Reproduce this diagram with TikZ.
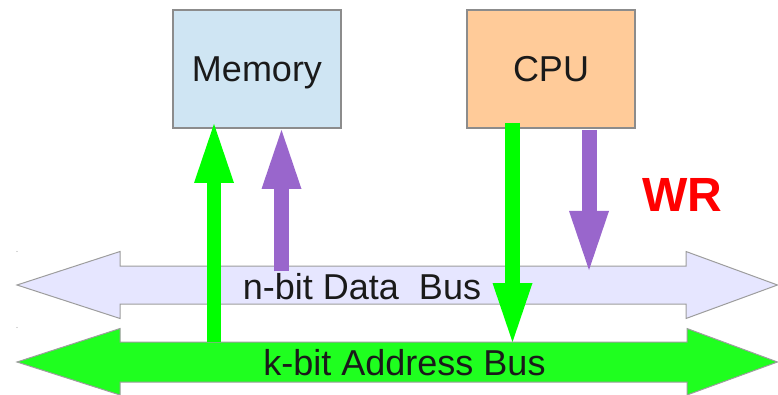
\documentclass[tikz,border=0pt]{standalone}
\usepackage{fontspec}
\setmainfont{Liberation Sans}
\usetikzlibrary{arrows.meta}
\definecolor{membg}{HTML}{CFE5F3}
\definecolor{cpubg}{HTML}{FFCB99}
\definecolor{databg}{HTML}{E6E6FF}
\definecolor{addrbg}{HTML}{1FFF1F}
\definecolor{sig}{HTML}{00FF00}
\definecolor{purp}{HTML}{9966CC}
\definecolor{edge}{HTML}{8C8C8C}
\definecolor{txt}{HTML}{1A1A1A}
\tikzset{
  unitbox/.style={draw=edge, line width=1.2pt, minimum width=168pt, minimum height=118pt,
    inner sep=0pt, text height=25.8pt, text depth=0pt, text=txt, font=\fontsize{36}{40}\selectfont},
  busshape/.style={draw=edge!85, line width=1pt},
  buslabel/.style={anchor=base, inner sep=0pt, text=txt, font=\fontsize{36}{40}\selectfont},
  fatarrow/.style={line width=#1, -{Triangle[length=59pt,width=40pt,line width=0pt]}},
  greensig/.style={fatarrow=14.5pt, draw=sig, fill=sig},
  purpsig/.style={fatarrow=15pt, draw=purp, fill=purp},
}
\begin{document}
\begin{tikzpicture}[x=1pt,y=-1pt]
\useasboundingbox (0,0) rectangle (778,395);
% buses
\draw[busshape, fill=databg] (17,285) -- (120,251.5) -- (120,266) -- (686,266) -- (686,251.5)
  -- (777.5,285) -- (686,318.5) -- (686,304) -- (120,304) -- (120,318.5) -- cycle;
\draw[busshape, fill=addrbg] (17,362) -- (120,328.5) -- (120,342) -- (687,342) -- (687,328.5)
  -- (777.5,362) -- (687,395) -- (687,382) -- (120,382) -- (120,395) -- cycle;
\fill[edge!70] (17,251.5) circle (0.6);
\fill[edge!70] (17,327.5) circle (0.6);
% units
\node[unitbox, fill=membg] (mem) at (257,69) {Memory};
\node[unitbox, fill=cpubg] (cpu) at (551,69) {CPU};
% connector end points
\coordinate (memGin) at (214,342);
\coordinate (memGtip) at (214,124);
\coordinate (memPin) at (281.5,271);
\coordinate (memPtip) at (281.5,130);
\coordinate (cpuGout) at (512.5,123);
\coordinate (cpuGtip) at (512.5,342);
\coordinate (cpuPout) at (589,130);
\coordinate (cpuPtip) at (589,270);
% arrows
\draw[greensig] (memGin) -- (memGtip);
\draw[purpsig] (memPin) -- (memPtip);
\draw[greensig] (cpuGout) -- (cpuGtip);
\draw[purpsig] (cpuPout) -- (cpuPtip);
% labels
\node[buslabel] (dbus) at (362,299) {n-bit Data\ \ Bus};
\node[buslabel] (abus) at (404.5,375) {k-bit Address Bus};
\node[anchor=base, inner sep=0pt, text=red, font=\fontsize{48}{52}\selectfont\bfseries] (wr) at (682,212) {WR};
\end{tikzpicture}
\end{document}
